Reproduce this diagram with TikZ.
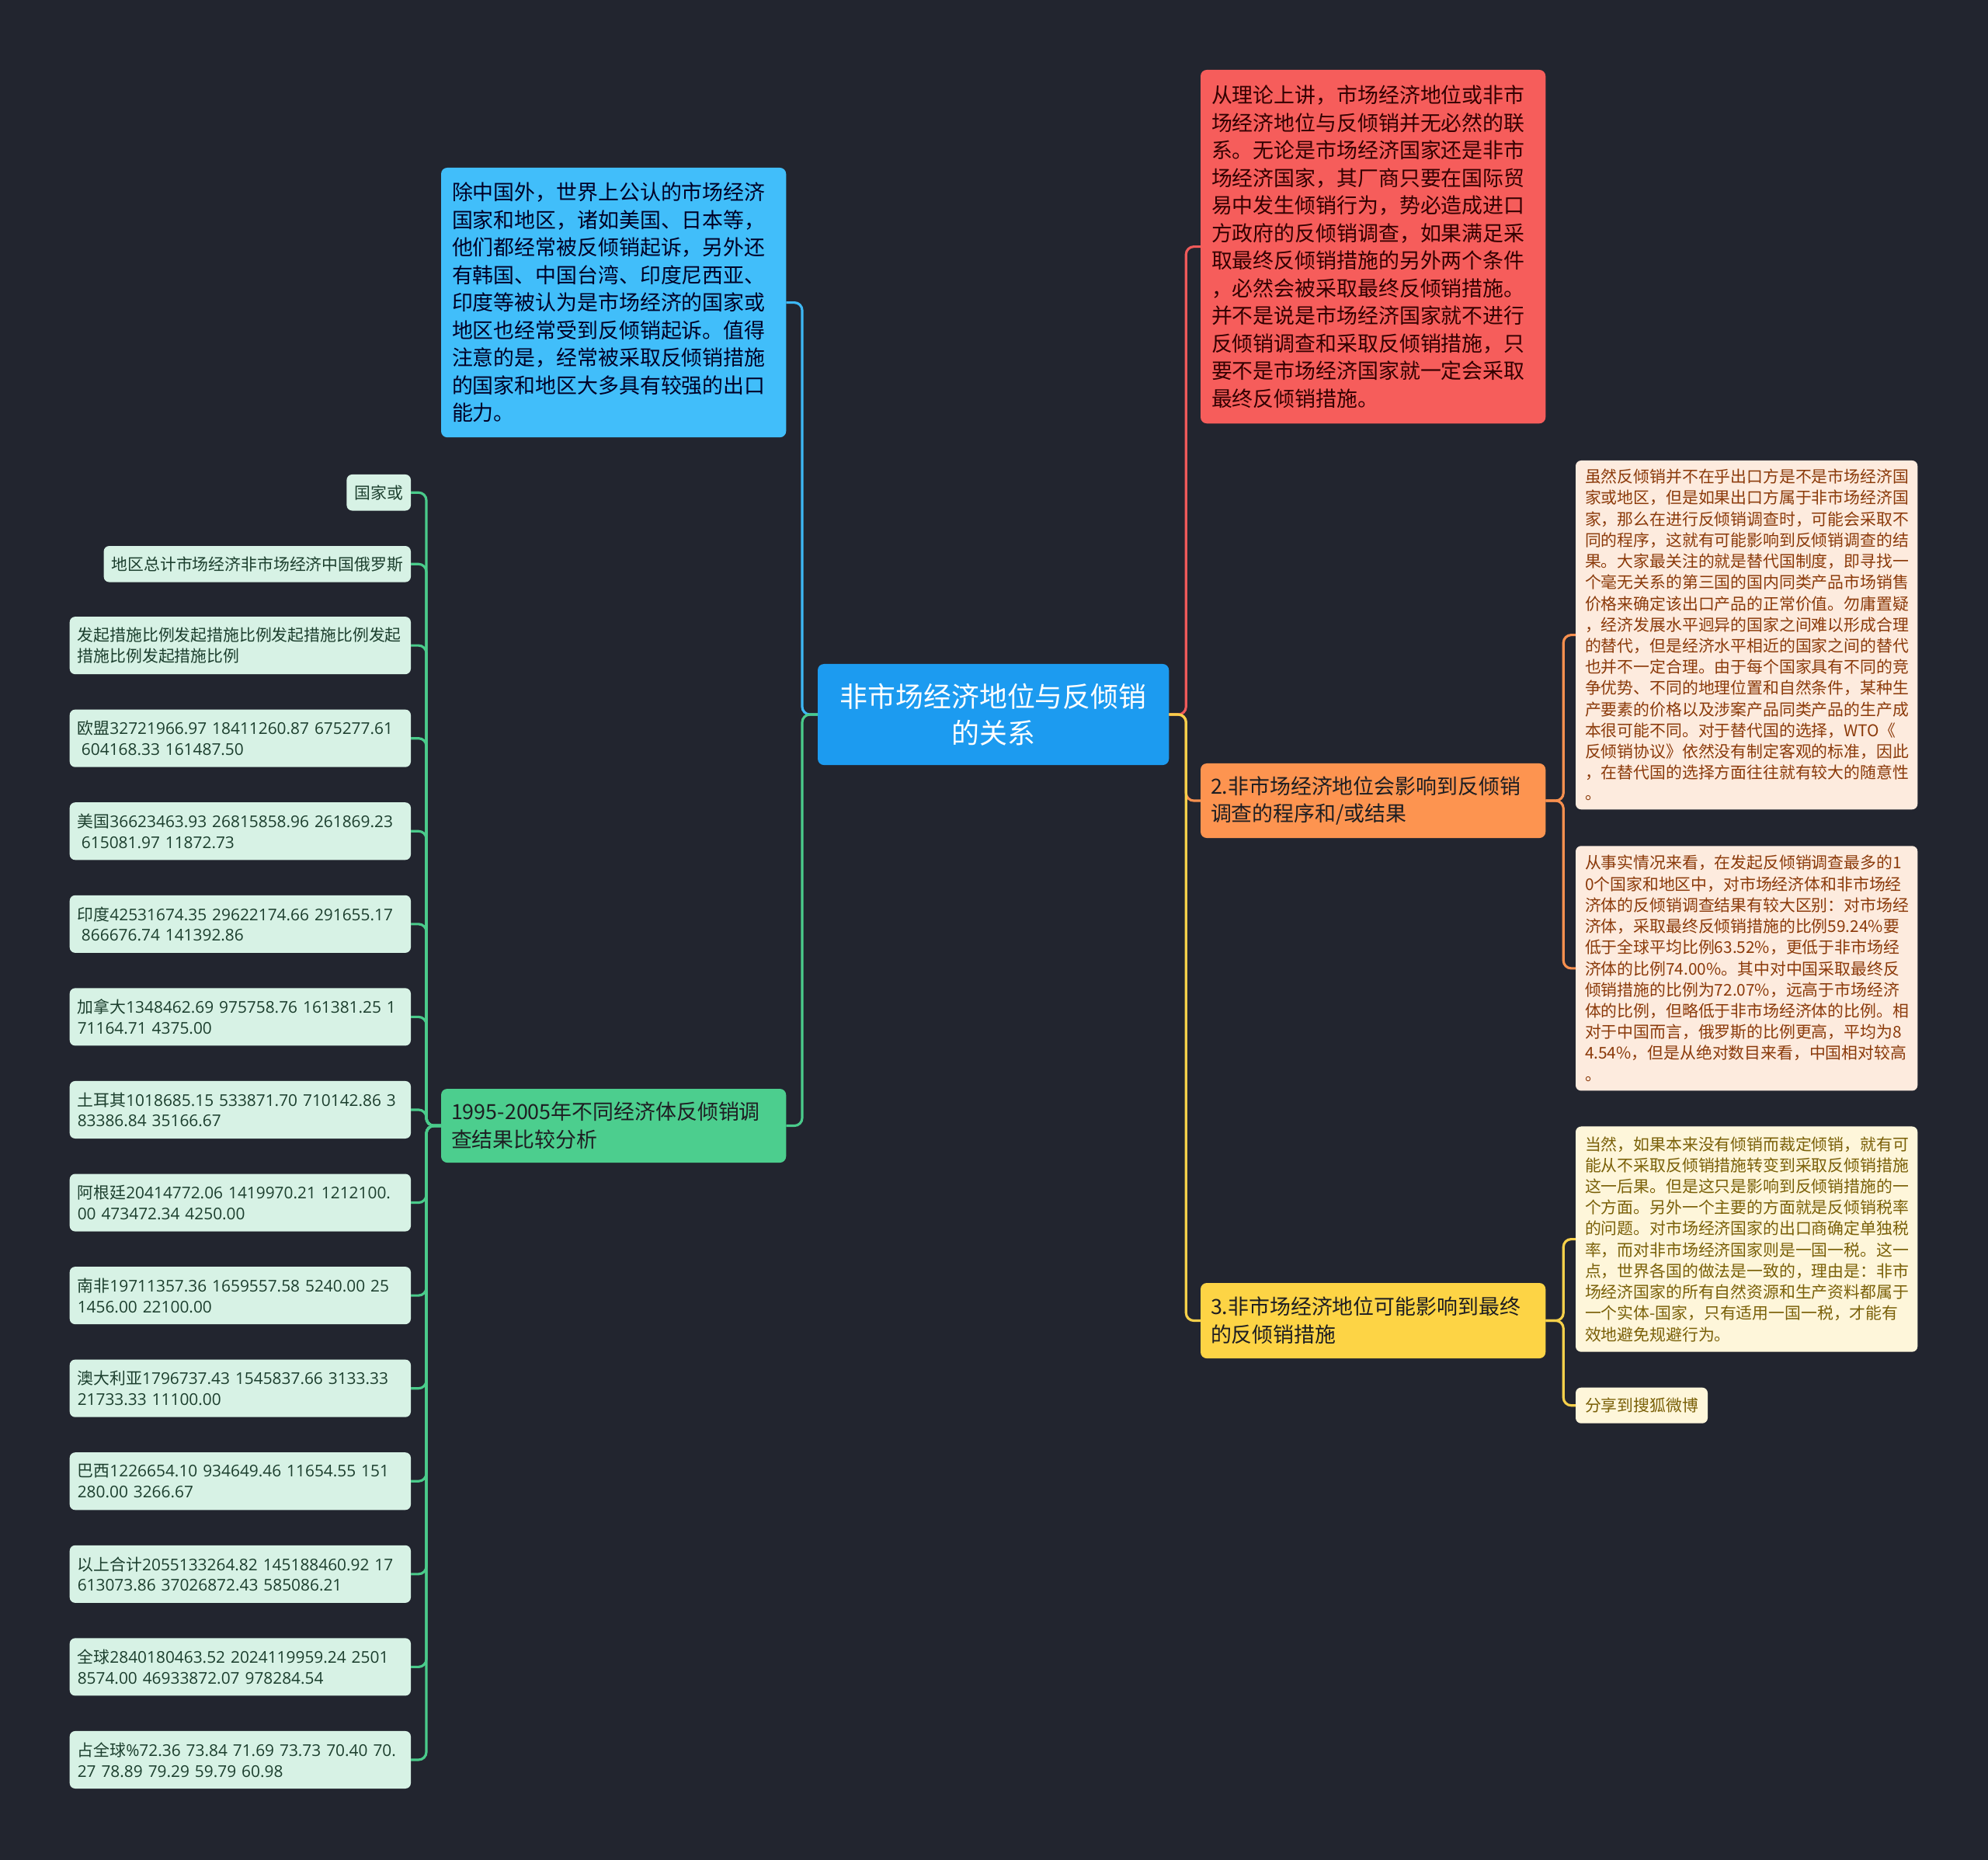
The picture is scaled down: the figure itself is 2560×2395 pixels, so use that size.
\documentclass[tikz,border=0pt]{standalone}
\usepackage{fontspec}
\setmainfont{Noto Sans CJK SC}
\newfontfamily\numfont{Open Sans}
\usetikzlibrary{positioning}
\definecolor{bgdark}{HTML}{22252F}
\definecolor{rootfill}{HTML}{1C9BF0}
\definecolor{skyfill}{HTML}{41BEFA}
\definecolor{skyline}{HTML}{3DB8F5}
\definecolor{redfill}{HTML}{F65D5B}
\definecolor{redline}{HTML}{EF5A5A}
\definecolor{orangefill}{HTML}{FD9450}
\definecolor{orangeline}{HTML}{F8904F}
\definecolor{yellowfill}{HTML}{FDD445}
\definecolor{yellowline}{HTML}{F6D04A}
\definecolor{greenfill}{HTML}{4CCE8E}
\definecolor{greenline}{HTML}{4ACB8B}
\definecolor{mintfill}{HTML}{D7F2E5}
\definecolor{minttext}{HTML}{1C3F2E}
\definecolor{peachfill}{HTML}{FDEBDE}
\definecolor{peachtext}{HTML}{8B3A0A}
\definecolor{creamfill}{HTML}{FEF6DA}
\definecolor{creamtext}{HTML}{7A6008}
\definecolor{darkink}{HTML}{1E1E22}
\tikzset{
  rootbox/.style={rounded corners=0.08cm, fill=rootfill, text=white, align=center, inner sep=0pt, outer sep=0pt,
    minimum width=4.52cm, minimum height=1.30cm, font=\fontsize{10.2}{13.4}\selectfont},
  parabox/.style={rounded corners=0.08cm, align=left, inner xsep=0.14cm, inner ysep=0.03cm, outer sep=0pt,
    text width=4.16cm, font=\fontsize{7.65}{10.1}\selectfont},
  topicbox/.style={rounded corners=0.08cm, align=left, inner xsep=0.13cm, inner ysep=0.03cm, outer sep=0pt,
    text width=4.18cm, minimum height=0.96cm, text=darkink, font=\fontsize{7.65}{10.2}\selectfont},
  leafL/.style={rounded corners=0.07cm, fill=mintfill, text=minttext, align=left, inner xsep=0.1cm,
    inner ysep=0.03cm, outer sep=0pt, font=\fontsize{5.93}{7.6}\selectfont},
  wideL/.style={leafL, text width=4.19cm, minimum height=0.74cm},
  leafR/.style={rounded corners=0.07cm, align=left, inner xsep=0.12cm, inner ysep=0.03cm, outer sep=0pt,
    text width=4.16cm, font=\fontsize{5.93}{7.74}\selectfont},
  link/.style={line width=0.9pt, rounded corners=0.1cm}
}
\begin{document}
\begin{tikzpicture}[x=0.01cm, y=-0.01cm]
  \fill[bgdark] (0,0) rectangle (2560,2395);
  \useasboundingbox (0,0) rectangle (2560,2395);

  % centre topic
  \node[rootbox, anchor=north west] (root) at (1053,855) {非市场经济地位与反倾销\\的关系};

  % left branches
  \node[parabox, fill=skyfill, text=black!85!blue, minimum height=3.47cm, anchor=north west] (intro) at (568,216) {除中国外，世界上公认的市场经济\\国家和地区，诸如美国、日本等，\\他们都经常被反倾销起诉，另外还\\有韩国、中国台湾、印度尼西亚、\\印度等被认为是市场经济的国家或\\地区也经常受到反倾销起诉。值得\\注意的是，经常被采取反倾销措施\\的国家和地区大多具有较强的出口\\能力。};
  \node[topicbox, fill=greenfill, minimum height=0.95cm, anchor=north west] (stats) at (568,1402) {1995-2005年不同经济体反倾销调\\查结果比较分析};

  % table rows
  \node[leafL, minimum height=0.465cm, anchor=north east] (row1) at (529,611) {国家或};
  \node[leafL, minimum height=0.465cm, below=0.455cm of row1.south east, anchor=north east] (row2) {地区总计市场经济非市场经济中国俄罗斯};
  \node[wideL, below=0.445cm of row2.south east, anchor=north east] (row3) {发起措施比例发起措施比例发起措施比例发起\\措施比例发起措施比例};
  \node[wideL, below=0.455cm of row3.south east, anchor=north east] (row4) {欧盟{\numfont 32721966.97 18411260.87 675277.61}\\\hspace*{0.25em}{\numfont 604168.33 161487.50}};
  \node[wideL, below=0.455cm of row4.south east, anchor=north east] (row5) {美国{\numfont 36623463.93 26815858.96 261869.23}\\\hspace*{0.25em}{\numfont 615081.97 11872.73}};
  \node[wideL, below=0.455cm of row5.south east, anchor=north east] (row6) {印度{\numfont 42531674.35 29622174.66 291655.17}\\\hspace*{0.25em}{\numfont 866676.74 141392.86}};
  \node[wideL, below=0.455cm of row6.south east, anchor=north east] (row7) {加拿大{\numfont 1348462.69 975758.76 161381.25 1}\\{\numfont 71164.71 4375.00}};
  \node[wideL, below=0.455cm of row7.south east, anchor=north east] (row8) {土耳其{\numfont 1018685.15 533871.70 710142.86 3}\\{\numfont 83386.84 35166.67}};
  \node[wideL, below=0.455cm of row8.south east, anchor=north east] (row9) {阿根廷{\numfont 20414772.06 1419970.21 1212100.}\\{\numfont 00 473472.34 4250.00}};
  \node[wideL, below=0.455cm of row9.south east, anchor=north east] (row10) {南非{\numfont 19711357.36 1659557.58 5240.00 25}\\{\numfont 1456.00 22100.00}};
  \node[wideL, below=0.455cm of row10.south east, anchor=north east] (row11) {澳大利亚{\numfont 1796737.43 1545837.66 3133.33}\\{\numfont 21733.33 11100.00}};
  \node[wideL, below=0.455cm of row11.south east, anchor=north east] (row12) {巴西{\numfont 1226654.10 934649.46 11654.55 151}\\{\numfont 280.00 3266.67}};
  \node[wideL, below=0.455cm of row12.south east, anchor=north east] (row13) {以上合计{\numfont 2055133264.82 145188460.92 17}\\{\numfont 613073.86 37026872.43 585086.21}};
  \node[wideL, below=0.455cm of row13.south east, anchor=north east] (row14) {全球{\numfont 2840180463.52 2024119959.24 2501}\\{\numfont 8574.00 46933872.07 978284.54}};
  \node[wideL, below=0.455cm of row14.south east, anchor=north east] (row15) {占全球{\numfont\%72.36 73.84 71.69 73.73 70.40 70.}\\{\numfont 27 78.89 79.29 59.79 60.98}};

  % right branches
  \node[parabox, fill=redfill, text=black!80!red, minimum height=4.55cm, anchor=north west] (theory) at (1546,90) {从理论上讲，市场经济地位或非市\\场经济地位与反倾销并无必然的联\\系。无论是市场经济国家还是非市\\场经济国家，其厂商只要在国际贸\\易中发生倾销行为，势必造成进口\\方政府的反倾销调查，如果满足采\\取最终反倾销措施的另外两个条件\\，必然会被采取最终反倾销措施。\\并不是说是市场经济国家就不进行\\反倾销调查和采取反倾销措施，只\\要不是市场经济国家就一定会采取\\最终反倾销措施。};
  \node[topicbox, fill=orangefill, anchor=north west] (procedure) at (1546,983) {2.非市场经济地位会影响到反倾销\\调查的程序和/或结果};
  \node[topicbox, fill=yellowfill, minimum height=0.97cm, anchor=north west] (measure) at (1546,1652) {3.非市场经济地位可能影响到最终\\的反倾销措施};

  \node[leafR, fill=peachfill, text=peachtext, minimum height=4.49cm, anchor=north west] (surrogate) at (2029,593) {虽然反倾销并不在乎出口方是不是市场经济国\\家或地区，但是如果出口方属于非市场经济国\\家，那么在进行反倾销调查时，可能会采取不\\同的程序，这就有可能影响到反倾销调查的结\\果。大家最关注的就是替代国制度，即寻找一\\个毫无关系的第三国的国内同类产品市场销售\\价格来确定该出口产品的正常价值。勿庸置疑\\，经济发展水平迥异的国家之间难以形成合理\\的替代，但是经济水平相近的国家之间的替代\\也并不一定合理。由于每个国家具有不同的竞\\争优势、不同的地理位置和自然条件，某种生\\产要素的价格以及涉案产品同类产品的生产成\\本很可能不同。对于替代国的选择，WTO《\\反倾销协议》依然没有制定客观的标准，因此\\，在替代国的选择方面往往就有较大的随意性\\。};
  \node[leafR, fill=peachfill, text=peachtext, minimum height=3.15cm, below=0.47cm of surrogate] (facts) {从事实情况来看，在发起反倾销调查最多的1\\0个国家和地区中，对市场经济体和非市场经\\济体的反倾销调查结果有较大区别：对市场经\\济体，采取最终反倾销措施的比例59.24\%要\\低于全球平均比例63.52\%，更低于非市场经\\济体的比例74.00\%。其中对中国采取最终反\\倾销措施的比例为72.07\%，远高于市场经济\\体的比例，但略低于非市场经济体的比例。相\\对于中国而言，俄罗斯的比例更高，平均为8\\4.54\%，但是从绝对数目来看，中国相对较高\\。};
  \node[leafR, fill=creamfill, text=creamtext, minimum height=2.90cm, below=0.46cm of facts] (taxrate) {当然，如果本来没有倾销而裁定倾销，就有可\\能从不采取反倾销措施转变到采取反倾销措施\\这一后果。但是这只是影响到反倾销措施的一\\个方面。另外一个主要的方面就是反倾销税率\\的问题。对市场经济国家的出口商确定单独税\\率，而对非市场经济国家则是一国一税。这一\\点，世界各国的做法是一致的，理由是：非市\\场经济国家的所有自然资源和生产资料都属于\\一个实体-国家，只有适用一国一税，才能有\\效地避免规避行为。};
  \node[leafR, fill=creamfill, text=creamtext, text width=, minimum height=0.46cm, below=0.46cm of taxrate.south west, anchor=north west] (share) {分享到搜狐微博};

  % connectors
  \draw[link, skyline] (root.west) -- ++(-20,0) |- (intro.east);
  \draw[link, greenline] (root.west) -- ++(-20,0) |- (stats.east);
  \draw[link, redline] (root.east) -- ++(22,0) |- (theory.west);
  \draw[link, orangeline] (root.east) -- ++(22,0) |- (procedure.west);
  \draw[link, yellowline] (root.east) -- ++(22,0) |- (measure.west);
  \foreach \r in {row1,row2,row3,row4,row5,row6,row7,row8,row9,row10,row11,row12,row13,row14,row15}
    \draw[link, greenline] (stats.west) -- ++(-19,0) |- (\r.east);
  \draw[link, orangeline] (procedure.east) -- ++(23,0) |- (surrogate.west);
  \draw[link, orangeline] (procedure.east) -- ++(23,0) |- (facts.west);
  \draw[link, yellowline] (measure.east) -- ++(23,0) |- (taxrate.west);
  \draw[link, yellowline] (measure.east) -- ++(23,0) |- (share.west);
\end{tikzpicture}
\end{document}
